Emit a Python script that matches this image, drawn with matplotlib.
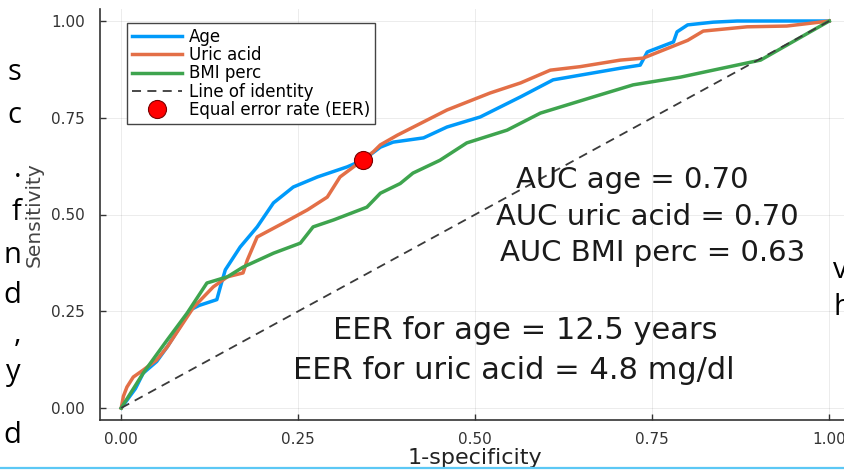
import matplotlib
matplotlib.use("Agg")
import matplotlib.pyplot as plt
from matplotlib.lines import Line2D

# ---- data ----
age_fpr = [0.0, 0.008, 0.02, 0.031, 0.05, 0.065, 0.083, 0.097, 0.11, 0.135, 0.14, 0.147,
           0.168, 0.192, 0.215, 0.243, 0.277, 0.319, 0.342, 0.366, 0.384, 0.427, 0.46,
           0.507, 0.564, 0.61, 0.648, 0.705, 0.733, 0.743, 0.78, 0.785, 0.8, 0.836, 0.87, 1.0]
age_tpr = [0.0, 0.02, 0.05, 0.09, 0.12, 0.158, 0.21, 0.253, 0.265, 0.28, 0.313, 0.357,
           0.416, 0.468, 0.53, 0.571, 0.597, 0.623, 0.641, 0.674, 0.687, 0.698, 0.726,
           0.752, 0.804, 0.848, 0.86, 0.878, 0.886, 0.92, 0.946, 0.972, 0.99, 0.997, 1.0, 1.0]

uric_fpr = [0.0, 0.003, 0.008, 0.017, 0.031, 0.05, 0.065, 0.102, 0.13, 0.15, 0.172, 0.178,
            0.192, 0.229, 0.263, 0.291, 0.309, 0.328, 0.356, 0.366, 0.39, 0.46, 0.521,
            0.564, 0.606, 0.648, 0.705, 0.737, 0.8, 0.822, 0.884, 0.94, 1.0]
uric_tpr = [0.0, 0.03, 0.054, 0.08, 0.098, 0.124, 0.158, 0.26, 0.313, 0.339, 0.349, 0.382,
            0.442, 0.478, 0.512, 0.545, 0.597, 0.623, 0.662, 0.68, 0.705, 0.77, 0.814,
            0.84, 0.873, 0.882, 0.899, 0.904, 0.95, 0.974, 0.985, 0.987, 1.0]

bmi_fpr = [0.0, 0.031, 0.065, 0.093, 0.121, 0.15, 0.172, 0.215, 0.253, 0.271, 0.3, 0.347,
           0.366, 0.394, 0.412, 0.45, 0.488, 0.545, 0.592, 0.667, 0.723, 0.79, 0.836, 0.903, 1.0]
bmi_tpr = [0.0, 0.09, 0.176, 0.245, 0.323, 0.339, 0.364, 0.4, 0.426, 0.468, 0.486, 0.519,
           0.555, 0.58, 0.607, 0.64, 0.685, 0.718, 0.762, 0.804, 0.835, 0.855, 0.873, 0.899, 1.0]

identity = [0.0, 1.0]
eer_point = (0.342, 0.641)

series_labels = ["Age", "Uric acid", "BMI perc", "Line of identity", "Equal error rate (EER)"]
ticks = [0.0, 0.25, 0.5, 0.75, 1.0]
tick_labels = ["0.00", "0.25", "0.50", "0.75", "1.00"]

auc_texts = ["AUC age = 0.70", "AUC uric acid = 0.70", "AUC BMI perc = 0.63"]
eer_texts = ["EER for age = 12.5 years", "EER for uric acid = 4.8 mg/dl"]

left_letters = ["s", "c", ".", "f", "n", "d", ",", "y", "d"]
right_letters = ["v", "h"]

# ---- figure ----
W, H = 844, 471
fig = plt.figure(figsize=(W / 100, H / 100), dpi=100)
fig.patch.set_facecolor("white")

ax_l, ax_b = 100 / W, (H - 419.6) / H
ax_w, ax_h = 750.5 / W, 410.2 / H
ax = fig.add_axes([ax_l, ax_b, ax_w, ax_h])

blue, orange, green = "#009AFA", "#E36F47", "#3EA44E"
lw = 2.5
ax.plot(age_fpr, age_tpr, color=blue, lw=lw, label=series_labels[0], solid_joinstyle="round")
ax.plot(uric_fpr, uric_tpr, color=orange, lw=lw, label=series_labels[1], solid_joinstyle="round")
ax.plot(bmi_fpr, bmi_tpr, color=green, lw=lw, label=series_labels[2], solid_joinstyle="round")
ax.plot(identity, identity, color="#3a3a3a", lw=1.3, ls=(0, (5, 3.5)), label=series_labels[3])
ax.plot([eer_point[0]], [eer_point[1]], ls="none", marker="o", ms=13,
        markerfacecolor="#FF0000", markeredgecolor="#7a0000", markeredgewidth=0.8,
        label=series_labels[4])

ax.set_xlim(-0.03, 1.03)
ax.set_ylim(-0.03, 1.03)
ax.set_xticks(ticks)
ax.set_xticklabels(tick_labels)
ax.set_yticks(ticks)
ax.set_yticklabels(tick_labels)
ax.grid(True, color="#000000", alpha=0.08, lw=0.7)
ax.set_axisbelow(True)
for s in ["top", "right"]:
    ax.spines[s].set_visible(False)
for s in ["left", "bottom"]:
    ax.spines[s].set_color("#333333")
    ax.spines[s].set_linewidth(1.2)
ax.tick_params(direction="in", length=4, width=1.0, color="#333333",
               labelsize=11, labelcolor="#333333")
ax.tick_params(axis="y", pad=11)
ax.tick_params(axis="x", pad=9)

ax.set_xlabel("1-specificity", fontsize=16, color="#222222", labelpad=1)
ax.set_ylabel("Sensitivity", fontsize=14.5, color="#444444", labelpad=5)

leg = ax.legend(loc="upper left", bbox_to_anchor=(127 / W, 1 - 23 / H),
                bbox_transform=fig.transFigure, borderaxespad=0,
                fontsize=12, labelspacing=0.02, handlelength=3.0, handletextpad=0.45,
                borderpad=0.28, frameon=True, fancybox=False, framealpha=1,
                edgecolor="#444444", markerscale=1.0)
leg.get_frame().set_linewidth(1.0)

tkw = dict(fontsize=21, color="#1a1a1a", ha="center", va="center")
ax.text(0.722, 0.589, auc_texts[0], **tkw)
ax.text(0.743, 0.494, auc_texts[1], **tkw)
ax.text(0.750, 0.400, auc_texts[2], **tkw)
ekw = dict(tkw, fontsize=22)
ax.text(0.571, 0.199, eer_texts[0], **ekw)
ax.text(0.555, 0.098, eer_texts[1], **ekw)

# surrounding document fragments
left_baselines = [80, 123, 177, 220, 263, 303, 342, 380, 443]
for ch, yb in zip(left_letters, left_baselines):
    fig.text(21 / W, 1 - yb / H, ch, fontsize=21, family="Open Sans",
             ha="right", va="baseline", color="black")
right_baselines = [278, 315]
for ch, yb in zip(right_letters, right_baselines):
    fig.text(833 / W, 1 - yb / H, ch, fontsize=21, family="Open Sans",
             ha="left", va="baseline", color="black")

fig.add_artist(Line2D([0, 1], [1 - 468 / H, 1 - 468 / H], transform=fig.transFigure,
                      color="#5cc8f5", lw=1.6))

fig.savefig("out.png", dpi=100)
